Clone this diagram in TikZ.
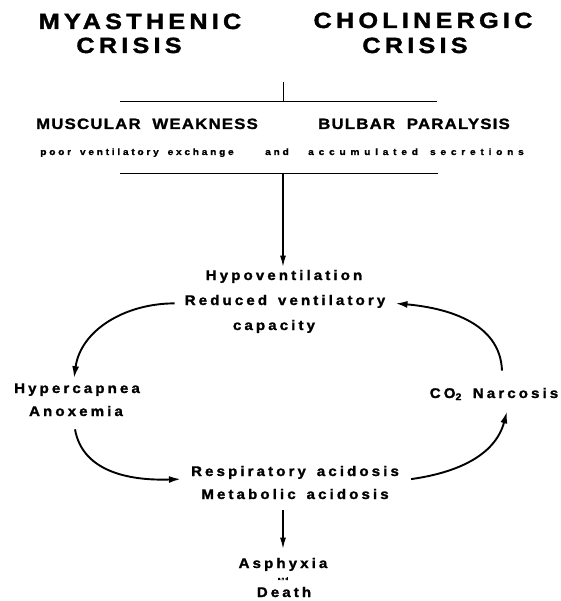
\documentclass[tikz,border=0pt]{standalone}
\usepackage{fontspec}
\usepackage{tikz}
\usetikzlibrary{arrows.meta}
\setmainfont{Liberation Sans}
\newfontfamily\titlefont[LetterSpace=19, FakeStretch=1.15, FakeBold=1.6]{Liberation Sans Bold}
\newfontfamily\causefont[LetterSpace=8, WordSpace=2, FakeStretch=1.12, FakeBold=1.4]{Liberation Sans Bold}
\newfontfamily\notefont[LetterSpace=30, WordSpace=1.6, FakeStretch=1.1, FakeBold=1.2]{Liberation Sans Bold}
\newfontfamily\widenotefont[LetterSpace=52, WordSpace=1.6, FakeStretch=1.1, FakeBold=1.2]{Liberation Sans Bold}
\newfontfamily\stagefont[LetterSpace=22, WordSpace=1.5, FakeStretch=1.08, FakeBold=1.4]{Liberation Sans Bold}

\begin{document}
\begin{tikzpicture}[x=1pt, y=-1pt,
    ttl/.style={anchor=base, inner sep=0pt, font=\titlefont\fontsize{22}{24}\selectfont},
    cause/.style={anchor=base, inner sep=0pt, font=\causefont\fontsize{15}{18}\selectfont},
    note/.style={anchor=base, inner sep=0pt, font=\notefont\fontsize{9.2}{10}\selectfont},
    stage/.style={anchor=base, inner sep=0pt, font=\stagefont\fontsize{14}{17}\selectfont},
    rule/.style={line width=0.9pt},
    flow/.style={-{Latex[length=12pt,width=7pt]}, line width=1.9pt},
    drop/.style={-{Latex[length=11pt,width=6pt]}, line width=1.3pt}]
    \useasboundingbox[fill=white] (0,0) rectangle (560,601);

    % the two crises
    \node[ttl] (mya) at (140,29) {MYASTHENIC};
    \node[ttl] (myacr) at (129,53) {CRISIS};
    \node[ttl] (cho) at (423,28) {CHOLINERGIC};
    \node[ttl] (chocr) at (415,53) {CRISIS};

    % common effects
    \coordinate (join) at (283,82);
    \coordinate (upper) at (283,101);
    \coordinate (lower) at (283,173);
    \draw[rule] (join) -- (upper);
    \draw[rule] (120,101) -- (437,101);
    \node[cause] (weak) at (147,129) {MUSCULAR WEAKNESS};
    \node[cause] (bulb) at (414,129) {BULBAR PARALYSIS};
    \node[note] (poor) at (137,155) {poor ventilatory exchange};
    \node[note] (and) at (277,155) {and};
    \node[note, font=\widenotefont\fontsize{9.2}{10}\selectfont] (secr) at (416,155) {accumulated secretions};
    \draw[rule] (120,173) -- (438,173);

    % the vicious circle
    \node[stage] (hypo) at (284,280) {Hypoventilation};
    \node[stage] (red) at (285,305) {Reduced ventilatory};
    \node[stage] (cap) at (274,330) {capacity};
    \node[stage] (hyper) at (77,393) {Hypercapnea};
    \node[stage] (anox) at (76,416) {Anoxemia};
    \node[stage] (narc) at (494,398) {CO\textsubscript{2} Narcosis};
    \node[stage] (resp) at (295,476) {Respiratory acidosis};
    \node[stage] (meta) at (295,499) {Metabolic acidosis};

    \draw[drop, shorten >=3pt] (lower) -- (lower |- hypo.north);
    \draw[flow] ([xshift=-10pt,yshift=-2pt]red.west) to[out=180, in=82] ([xshift=-3pt,yshift=5pt]hyper.north);
    \draw[flow] ([xshift=-1pt,yshift=-13pt]anox.south) to[out=-80, in=182] ([xshift=-10pt]resp.south west);
    \draw[flow] ([xshift=12pt]resp.south east) to[out=8, in=-105] ([xshift=13pt,yshift=-11pt]narc.south);
    \draw[flow] ([xshift=8pt,yshift=17pt]narc.north) to[out=92, in=-5] ([xshift=10pt,yshift=-2pt]red.east);

    % outcome
    \node[stage] (asph) at (283,568) {Asphyxia};
    \node[anchor=base, inner sep=0pt, font=\notefont\fontsize{4}{5}\selectfont] (and2) at (283,580) {and};
    \node[stage] (death) at (284,597) {Death};
    \draw[drop, shorten <=11pt, shorten >=9pt] (asph.north |- meta.south) -- (asph.north);
\end{tikzpicture}
\end{document}
